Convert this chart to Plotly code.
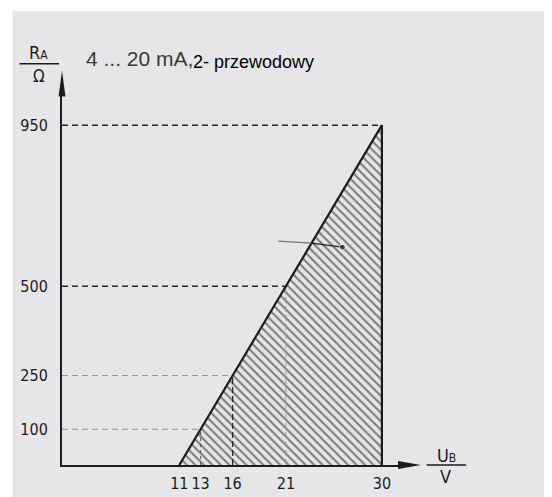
import plotly.graph_objects as go

# ---------------- data ----------------
u_start = 11          # V, minimum supply voltage (R = 0)
u_max = 30            # V, maximum supply voltage
r_max = 950           # Ohm, max load at 30 V
x_ticks = [11, 13, 16, 21, 30]
y_ticks = [100, 250, 500, 950]
# reference points on the load line (U, R)
ref_u = [13, 16, 21, 30]
ref_r = [100, 250, 500, 950]
# leader line (pointer) into the working area
pointer_u = [20.27, 23.4, 26.3]
pointer_r = [626, 620, 609]

title_a = "4 ... 20 mA,"
title_b = "2- przewodowy"

# ---------------- layout geometry ----------------
W, H = 552, 497
L, R, T, B = 50, 161, 86, 21
PW = W - L - R
PH = H - T - B
SY, CY = 0.96, 12.0            # screen y = SY*fig_y + CY (observed)
X_RANGE = [0, PW / 10.79]
Y_RANGE = [0, PH / (0.361 / SY)]

def px(xp):   # screen pixel -> paper x
    return (xp - 8 - L) / PW

def py(yp):   # screen pixel -> paper y
    return ((H - B) - (yp - CY) / SY) / PH

COND = "Liberation Sans Narrow, DejaVu Sans Condensed, Roboto Condensed, Arial Narrow, Liberation Sans, sans-serif"
AXC = "#1c1c1c"

fig = go.Figure()

# hatched working area
fig.add_trace(go.Scatter(
    x=[u_start, u_max, u_max, u_start], y=[0, 0, r_max, 0],
    mode="lines", fill="toself", line=dict(width=0, color="rgba(0,0,0,0)"),
    fillcolor="rgba(0,0,0,0)",
    fillpattern=dict(shape="\\", fgcolor="#111111", bgcolor="rgba(0,0,0,0)",
                     size=6, solidity=0.35),
    hoverinfo="skip", showlegend=False))

# dashed reference lines
styles = {
    100: ("#8a8a8a", 1.0), 250: ("#8a8a8a", 1.0),
    500: ("#2a2a2a", 1.5), 950: ("#2a2a2a", 1.5),
}
for u, r in zip(ref_u, ref_r):
    c, w = styles[r]
    fig.add_trace(go.Scatter(x=[0, u], y=[r, r], mode="lines",
                             line=dict(color=c, width=w, dash="6px,4px"),
                             hoverinfo="skip", showlegend=False))
vstyles = {13: ("#555555", 1.0, "3px,3px"), 16: ("#2a2a2a", 1.3, "6px,3px"),
           21: ("#9a9a9a", 1.0, "6px,3px")}
for u, r in zip(ref_u[:3], ref_r[:3]):
    c, w, d = vstyles[u]
    fig.add_trace(go.Scatter(x=[u, u], y=[0, r], mode="lines",
                             line=dict(color=c, width=w, dash=d),
                             hoverinfo="skip", showlegend=False))

# load line and right boundary
fig.add_trace(go.Scatter(x=[u_start, u_max, u_max], y=[0, r_max, 0], mode="lines",
                         line=dict(color=AXC, width=2.2),
                         hoverinfo="skip", showlegend=False))

# pointer
fig.add_trace(go.Scatter(x=pointer_u[:2], y=pointer_r[:2], mode="lines",
                         line=dict(color="#777777", width=1.2),
                         hoverinfo="skip", showlegend=False))
fig.add_trace(go.Scatter(x=pointer_u[1:], y=pointer_r[1:], mode="lines+markers",
                         line=dict(color="#222222", width=1.2),
                         marker=dict(size=[0, 6], color="#222222"),
                         hoverinfo="skip", showlegend=False))

shapes = [
    # grey background panel
    dict(type="rect", xref="paper", yref="paper", x0=px(8), x1=px(580),
         y0=py(530), y1=py(11), fillcolor="#e6e6e8", line=dict(width=0), layer="below"),
    # y axis arrowhead
    dict(type="path", xref="paper", yref="paper",
         path=f"M {px(54.5)} {py(97)} L {px(61.5)} {py(97)} L {px(58)} {py(71)} Z",
         fillcolor=AXC, line=dict(width=0)),
    # x axis arrowhead
    dict(type="path", xref="paper", yref="paper",
         path=f"M {px(398)} {py(465)} L {px(398)} {py(473)} L {px(421)} {py(469)} Z",
         fillcolor=AXC, line=dict(width=0)),
    # R_A / Ohm fraction bar
    dict(type="line", xref="paper", yref="paper", x0=px(15), x1=px(55),
         y0=py(64), y1=py(64), line=dict(color=AXC, width=1.5)),
    # U_B / V fraction bar
    dict(type="line", xref="paper", yref="paper", x0=px(427), x1=px(467),
         y0=py(469), y1=py(469), line=dict(color=AXC, width=1.5)),
]

annotations = [
    dict(xref="paper", yref="paper", x=px(34), y=py(53), showarrow=False,
         text="R<span style='font-size:12px'>A</span>",
         font=dict(family=COND, size=18, color=AXC), xanchor="center", yanchor="middle"),
    dict(xref="paper", yref="paper", x=px(34.5), y=py(76), showarrow=False,
         text="Ω", font=dict(family=COND, size=17, color=AXC), xanchor="center", yanchor="middle"),
    dict(xref="paper", yref="paper", x=px(447), y=py(459), showarrow=False,
         text="U<span style='font-size:12px'>B</span>",
         font=dict(family=COND, size=18, color=AXC), xanchor="center", yanchor="middle"),
    dict(xref="paper", yref="paper", x=px(446), y=py(481), showarrow=False,
         text="V", font=dict(family=COND, size=18, color=AXC), xanchor="center", yanchor="middle"),
    dict(xref="paper", yref="paper", x=px(80), y=py(59), showarrow=False,
         text=title_a, font=dict(family="Liberation Sans, Arial, sans-serif", size=21, color="#3a3a3a"),
         xanchor="left", yanchor="middle"),
    dict(xref="paper", yref="paper", x=px(189), y=py(62), showarrow=False,
         text=title_b, font=dict(family="Liberation Sans, Arial, sans-serif", size=18, color="#000000"),
         xanchor="left", yanchor="middle"),
]

fig.update_layout(
    width=W, height=H,
    margin=dict(l=L, r=R, t=T, b=B, pad=0),
    paper_bgcolor="white", plot_bgcolor="rgba(0,0,0,0)",
    shapes=shapes, annotations=annotations, showlegend=False,
    xaxis=dict(range=X_RANGE, showgrid=False, zeroline=False, showline=True,
               linecolor=AXC, linewidth=2, tickvals=x_ticks,
               ticktext=[str(v) for v in x_ticks], ticks="outside", ticklen=3,
               tickcolor="rgba(0,0,0,0)", tickfont=dict(family=COND, size=16, color=AXC),
               fixedrange=True),
    yaxis=dict(range=Y_RANGE, showgrid=False, zeroline=False, showline=True,
               linecolor=AXC, linewidth=2, tickvals=y_ticks,
               ticktext=[str(v) for v in y_ticks], ticks="outside", ticklen=9,
               tickcolor="rgba(0,0,0,0)", tickfont=dict(family=COND, size=16, color=AXC),
               fixedrange=True),
)

fig.write_html("out.html")
